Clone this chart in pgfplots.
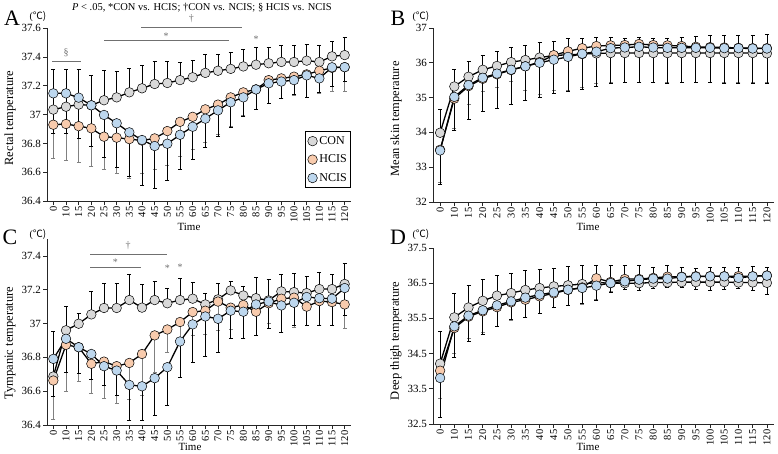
\documentclass[border=0pt]{standalone}
\usepackage{pgfplots}
\pgfplotsset{compat=1.18}
\usepackage{fontspec}
\setmainfont{Liberation Serif}
\newfontfamily\cjk{Noto Sans CJK SC}
\definecolor{cgray}{HTML}{D9D9D9}
\definecolor{corange}{HTML}{F8CBAD}
\definecolor{cblue}{HTML}{BDD7EE}
\definecolor{ebgray}{HTML}{808080}
\definecolor{siggray}{HTML}{707070}
\pgfplotsset{
  panel/.style={
    anchor=south west, scale only axis,
    xmin=-0.5, xmax=23.5,
    axis x line*=bottom, axis y line*=left,
    axis line style={black!85, line width=0.9pt},
    xtick={0,...,23},
    xticklabels={0,10,15,20,25,30,35,40,45,50,55,60,65,70,75,80,85,90,95,100,105,110,115,120},
    x tick label style={rotate=90, anchor=east, font=\fontsize{10.5}{12}\selectfont, inner sep=1.5pt},
    y tick label style={font=\fontsize{11}{13}\selectfont, inner sep=2pt},
    tick align=outside, major tick length=4pt,
    every tick/.style={black!85, line width=0.8pt},
    /pgf/number format/assume math mode=true,
    clip=false,
  },
  ser/.style={black, line width=1.3pt, mark=*, mark size=4.8pt,
    error bars/y explicit,
    error bars/error mark=-,
    error bars/error bar style={line width=0.8pt, solid}},
  con/.style={ser, mark options={fill=cgray, draw=black, line width=0.5pt},
    error bars/y dir=plus,
    error bars/error bar style={black, line width=0.8pt},
    error bars/error mark options={rotate=90, black, mark size=2pt, line width=0.8pt}},
  hcis/.style={ser, mark options={fill=corange, draw=black, line width=0.5pt},
    error bars/y dir=minus,
    error bars/error bar style={ebgray, line width=0.8pt},
    error bars/error mark options={rotate=90, ebgray, mark size=2pt, line width=0.8pt}},
  ncis/.style={ser, mark options={fill=cblue, draw=black, line width=0.5pt},
    error bars/y dir=minus,
    error bars/error bar style={black, line width=0.8pt},
    error bars/error mark options={rotate=90, black, mark size=2pt, line width=0.8pt}},
}
\begin{document}
\begin{tikzpicture}
\useasboundingbox (0pt,0pt) rectangle (778pt,453pt);

% ---------------- Panel A ----------------
\begin{axis}[panel, at={(47pt,252pt)}, width=304pt, height=172.7pt,
  ymin=36.4, ymax=37.6, ytick={36.4,36.6,36.8,37,37.2,37.4,37.6},
  legend style={at={(1,0.075)}, anchor=south east, draw=black, line width=0.6pt,
    font=\fontsize{12}{14}\selectfont, row sep=5pt, inner xsep=2pt, inner ysep=3pt},
  legend cell align=left]
\addlegendimage{only marks, mark=*, mark size=4.8pt, mark options={fill=cgray, draw=black, line width=0.5pt}}
\addlegendentry{CON}
\addlegendimage{only marks, mark=*, mark size=4.8pt, mark options={fill=corange, draw=black, line width=0.5pt}}
\addlegendentry{HCIS}
\addlegendimage{only marks, mark=*, mark size=4.8pt, mark options={fill=cblue, draw=black, line width=0.5pt}}
\addlegendentry{NCIS}
\addplot[con, forget plot] coordinates {
(0,37.035) +- (0,0.277) (1,37.055) +- (0,0.257) (2,37.07) +- (0,0.245) (3,37.065) +- (0,0.205)
(4,37.10) +- (0,0.205) (5,37.12) +- (0,0.18) (6,37.155) +- (0,0.165) (7,37.183) +- (0,0.157)
(8,37.213) +- (0,0.157) (9,37.22) +- (0,0.15) (10,37.24) +- (0,0.125) (11,37.26) +- (0,0.115)
(12,37.29) +- (0,0.13) (13,37.305) +- (0,0.115) (14,37.318) +- (0,0.112) (15,37.335) +- (0,0.12)
(16,37.347) +- (0,0.123) (17,37.357) +- (0,0.108) (18,37.366) +- (0,0.114) (19,37.366) +- (0,0.114)
(20,37.375) +- (0,0.115) (21,37.366) +- (0,0.114) (22,37.405) +- (0,0.105) (23,37.414) +- (0,0.121)};
\addplot[hcis, forget plot] coordinates {
(0,36.93) +- (0,0.233) (1,36.935) +- (0,0.25) (2,36.92) +- (0,0.25) (3,36.905) +- (0,0.265)
(4,36.847) +- (0,0.227) (5,36.84) +- (0,0.25) (6,36.83) +- (0,0.27) (7,36.82) +- (0,0.23)
(8,36.835) +- (0,0.215) (9,36.886) +- (0,0.236) (10,36.95) +- (0,0.24) (11,36.985) +- (0,0.225)
(12,37.037) +- (0,0.227) (13,37.07) +- (0,0.21) (14,37.12) +- (0,0.2) (15,37.155) +- (0,0.16)
(16,37.176) +- (0,0.14) (17,37.24) +- (0,0.16) (18,37.252) +- (0,0.14) (19,37.264) +- (0,0.13)
(20,37.28) +- (0,0.16) (21,37.305) +- (0,0.155) (22,37.325) +- (0,0.165) (23,37.33) +- (0,0.17)};
\addplot[ncis, forget plot] coordinates {
(0,37.148) +- (0,0.278) (1,37.148) +- (0,0.278) (2,37.118) +- (0,0.283) (3,37.065) +- (0,0.285)
(4,36.998) +- (0,0.298) (5,36.94) +- (0,0.305) (6,36.877) +- (0,0.307) (7,36.824) +- (0,0.314)
(8,36.782) +- (0,0.297) (9,36.798) +- (0,0.258) (10,36.86) +- (0,0.24) (11,36.916) +- (0,0.226)
(12,36.972) +- (0,0.2) (13,37.03) +- (0,0.18) (14,37.086) +- (0,0.176) (15,37.12) +- (0,0.13)
(16,37.175) +- (0,0.138) (17,37.218) +- (0,0.14) (18,37.23) +- (0,0.12) (19,37.24) +- (0,0.10)
(20,37.273) +- (0,0.15) (21,37.252) +- (0,0.10) (22,37.329) +- (0,0.13) (23,37.33) +- (0,0.10)};
% significance marks
\draw[siggray, line width=0.9pt] (axis cs:-0.1,37.373) -- (axis cs:2.2,37.373);
\node[siggray, font=\fontsize{10}{12}\selectfont] at (axis cs:1,37.43) {§};
\draw[siggray, line width=0.9pt] (axis cs:4,37.514) -- (axis cs:13.9,37.514);
\node[siggray, font=\fontsize{10}{12}\selectfont] at (axis cs:8.9,37.545) {*};
\draw[siggray, line width=0.9pt] (axis cs:6.95,37.604) -- (axis cs:14.9,37.604);
\node[siggray, font=\fontsize{10}{12}\selectfont] at (axis cs:10.9,37.665) {†};
\node[siggray, font=\fontsize{10}{12}\selectfont] at (axis cs:16,37.525) {*};
\end{axis}

% ---------------- Panel B ----------------
\begin{axis}[panel, at={(433pt,251pt)}, width=341pt, height=174pt,
  ymin=32, ymax=37, ytick={32,33,34,35,36,37}]
\addplot[con] coordinates {
(0,33.99) +- (0,0.67) (1,35.32) +- (0,0.48) (2,35.60) +- (0,0.45) (3,35.80) +- (0,0.41)
(4,35.91) +- (0,0.43) (5,36.02) +- (0,0.42) (6,36.08) +- (0,0.42) (7,36.15) +- (0,0.43)
(8,36.21) +- (0,0.41) (9,36.23) +- (0,0.46) (10,36.25) +- (0,0.46) (11,36.27) +- (0,0.45)
(12,36.28) +- (0,0.44) (13,36.28) +- (0,0.43) (14,36.28) +- (0,0.44) (15,36.28) +- (0,0.43)
(16,36.28) +- (0,0.43) (17,36.28) +- (0,0.45) (18,36.28) +- (0,0.49) (19,36.28) +- (0,0.5)
(20,36.28) +- (0,0.51) (21,36.28) +- (0,0.5) (22,36.28) +- (0,0.51) (23,36.27) +- (0,0.54)};
\addplot[hcis] coordinates {
(0,33.50) +- (0,0.95) (1,34.97) +- (0,0.85) (2,35.33) +- (0,0.52) (3,35.54) +- (0,0.35)
(4,35.67) +- (0,0.37) (5,35.79) +- (0,0.33) (6,35.90) +- (0,0.7) (7,36.02) +- (0,0.92)
(8,36.22) +- (0,1.02) (9,36.33) +- (0,1.13) (10,36.42) +- (0,1.12) (11,36.48) +- (0,1.08)
(12,36.50) +- (0,1.05) (13,36.51) +- (0,1.06) (14,36.54) +- (0,1.09) (15,36.51) +- (0,1.06)
(16,36.50) +- (0,1.05) (17,36.48) +- (0,1.03) (18,36.46) +- (0,1.01) (19,36.45) +- (0,1.0)
(20,36.44) +- (0,0.99) (21,36.43) +- (0,0.98) (22,36.42) +- (0,0.97) (23,36.42) +- (0,0.97)};
\addplot[ncis] coordinates {
(0,33.48) +- (0,0.98) (1,35.02) +- (0,0.97) (2,35.36) +- (0,0.98) (3,35.57) +- (0,0.97)
(4,35.69) +- (0,1.0) (5,35.80) +- (0,0.99) (6,35.90) +- (0,0.97) (7,36.0) +- (0,0.99)
(8,36.09) +- (0,0.97) (9,36.17) +- (0,1.0) (10,36.26) +- (0,1.01) (11,36.32) +- (0,0.99)
(12,36.42) +- (0,1.0) (13,36.44) +- (0,1.01) (14,36.46) +- (0,1.03) (15,36.44) +- (0,1.01)
(16,36.43) +- (0,1.02) (17,36.43) +- (0,1.0) (18,36.43) +- (0,1.0) (19,36.43) +- (0,1.0)
(20,36.42) +- (0,1.0) (21,36.42) +- (0,1.0) (22,36.41) +- (0,1.0) (23,36.41) +- (0,0.99)};
\end{axis}

% ---------------- Panel C ----------------
\begin{axis}[panel, at={(47pt,28pt)}, width=304pt, height=186pt,
  ymin=36.4, ymax=37.5, ytick={36.4,36.6,36.8,37,37.2,37.4}]
\addplot[con] coordinates {
(0,36.687) +- (0,0.268) (1,36.96) +- (0,0.14) (2,36.999) +- (0,0.061) (3,37.054) +- (0,0.136)
(4,37.092) +- (0,0.144) (5,37.092) +- (0,0.144) (6,37.139) +- (0,0.151) (7,37.094) +- (0,0.136)
(8,37.139) +- (0,0.111) (9,37.12) +- (0,0.09) (10,37.139) +- (0,0.127) (11,37.147) +- (0,0.095)
(12,37.113) +- (0,0.064) (13,37.143) +- (0,0.093) (14,37.196) +- (0,0.054) (15,37.166) +- (0,0.054)
(16,37.15) +- (0,0.125) (17,37.137) +- (0,0.125) (18,37.19) +- (0,0.1) (19,37.186) +- (0,0.109)
(20,37.18) +- (0,0.1) (21,37.204) +- (0,0.096) (22,37.204) +- (0,0.086) (23,37.234) +- (0,0.119)};
\addplot[hcis] coordinates {
(0,36.663) +- (0,0.227) (1,36.874) +- (0,0.274) (2,36.86) +- (0,0.2) (3,36.762) +- (0,0.178)
(4,36.775) +- (0,0.217) (5,36.748) +- (0,0.218) (6,36.767) +- (0,0.213) (7,36.82) +- (0,0.246)
(8,36.93) +- (0,0.22) (9,36.965) +- (0,0.135) (10,37.009) +- (0,0.326) (11,37.068) +- (0,0.138)
(12,37.076) +- (0,0.141) (13,37.13) +- (0,0.17) (14,37.094) +- (0,0.131) (15,37.11) +- (0,0.2)
(16,37.07) +- (0,0.14) (17,37.12) +- (0,0.121) (18,37.147) +- (0,0.202) (19,37.153) +- (0,0.173)
(20,37.10) +- (0,0.11) (21,37.133) +- (0,0.143) (22,37.127) +- (0,0.137) (23,37.113) +- (0,0.143)};
\addplot[ncis] coordinates {
(0,36.791) +- (0,0.223) (1,36.91) +- (0,0.2) (2,36.86) +- (0,0.154) (3,36.82) +- (0,0.152)
(4,36.748) +- (0,0.111) (5,36.722) +- (0,0.148) (6,36.637) +- (0,0.211) (7,36.629) +- (0,0.199)
(8,36.677) +- (0,0.222) (9,36.742) +- (0,0.224) (10,36.894) +- (0,0.214) (11,36.995) +- (0,0.225)
(12,37.042) +- (0,0.237) (13,37.028) +- (0,0.201) (14,37.076) +- (0,0.162) (15,37.07) +- (0,0.16)
(16,37.113) +- (0,0.183) (17,37.13) +- (0,0.16) (18,37.107) +- (0,0.162) (19,37.123) +- (0,0.133)
(20,37.157) +- (0,0.167) (21,37.15) +- (0,0.16) (22,37.147) +- (0,0.157) (23,37.21) +- (0,0.16)};
\draw[siggray, line width=0.9pt] (axis cs:2.9,37.406) -- (axis cs:8.95,37.406);
\node[siggray, font=\fontsize{10}{12}\selectfont] at (axis cs:5.9,37.46) {†};
\draw[siggray, line width=0.9pt] (axis cs:2.9,37.33) -- (axis cs:6.9,37.33);
\node[siggray, font=\fontsize{10}{12}\selectfont] at (axis cs:4.9,37.365) {*};
\node[siggray, font=\fontsize{10}{12}\selectfont] at (axis cs:9,37.33) {*};
\node[siggray, font=\fontsize{10}{12}\selectfont] at (axis cs:10,37.335) {*};
\end{axis}

% ---------------- Panel D ----------------
\begin{axis}[panel, at={(433pt,29pt)}, width=341pt, height=176pt,
  ymin=32.5, ymax=37.5, ytick={32.5,33.5,34.5,35.5,36.5,37.5}]
\addplot[con] coordinates {
(0,34.214) +- (0,0.916) (1,35.53) +- (0,0.69) (2,35.81) +- (0,0.63) (3,36.0) +- (0,0.62)
(4,36.146) +- (0,0.574) (5,36.22) +- (0,0.57) (6,36.307) +- (0,0.549) (7,36.364) +- (0,0.536)
(8,36.41) +- (0,0.52) (9,36.44) +- (0,0.54) (10,36.477) +- (0,0.523) (11,36.52) +- (0,0.49)
(12,36.5) +- (0,0.51) (13,36.5) +- (0,0.5) (14,36.5) +- (0,0.5) (15,36.52) +- (0,0.43)
(16,36.52) +- (0,0.49) (17,36.53) +- (0,0.43) (18,36.53) +- (0,0.4) (19,36.53) +- (0,0.42)
(20,36.53) +- (0,0.42) (21,36.52) +- (0,0.43) (22,36.52) +- (0,0.45) (23,36.51) +- (0,0.44)};
\addplot[hcis] coordinates {
(0,34.015) +- (0,0.775) (1,35.227) +- (0,0.71) (2,35.55) +- (0,0.63) (3,35.70) +- (0,0.61)
(4,35.82) +- (0,0.55) (5,35.956) +- (0,0.5) (6,36.03) +- (0,0.5) (7,36.127) +- (0,0.48)
(8,36.21) +- (0,0.4) (9,36.31) +- (0,0.45) (10,36.38) +- (0,0.47) (11,36.64) +- (0,0.59)
(12,36.534) +- (0,0.28) (13,36.62) +- (0,0.29) (14,36.62) +- (0,0.33) (15,36.65) +- (0,0.29)
(16,36.686) +- (0,0.31) (17,36.686) +- (0,0.3) (18,36.7) +- (0,0.38) (19,36.7) +- (0,0.41)
(20,36.7) +- (0,0.37) (21,36.7) +- (0,0.34) (22,36.7) +- (0,0.41) (23,36.72) +- (0,0.55)};
\addplot[ncis] coordinates {
(0,33.807) +- (0,1.12) (1,35.275) +- (0,0.885) (2,35.578) +- (0,0.73) (3,35.73) +- (0,0.69)
(4,35.87) +- (0,0.6) (5,35.985) +- (0,0.52) (6,36.09) +- (0,0.56) (7,36.174) +- (0,0.52)
(8,36.24) +- (0,0.43) (9,36.316) +- (0,0.46) (10,36.364) +- (0,0.45) (11,36.43) +- (0,0.41)
(12,36.506) +- (0,0.26) (13,36.553) +- (0,0.22) (14,36.6) +- (0,0.31) (15,36.63) +- (0,0.27)
(16,36.63) +- (0,0.25) (17,36.676) +- (0,0.29) (18,36.686) +- (0,0.37) (19,36.695) +- (0,0.4)
(20,36.695) +- (0,0.37) (21,36.65) +- (0,0.29) (22,36.695) +- (0,0.4) (23,36.714) +- (0,0.54)};
\end{axis}

% ---------------- texts ----------------
\node[font=\fontsize{10.5}{12}\selectfont] at (202pt,445pt) {\textit{P} < .05, *CON vs. HCIS; †CON vs. NCIS;\ § HCIS vs. NCIS};
\node[font=\fontsize{22}{24}\selectfont] at (12pt,435pt) {A};
\node[font=\fontsize{22}{24}\selectfont] at (398pt,435pt) {B};
\node[font=\fontsize{22}{24}\selectfont] at (10pt,216pt) {C};
\node[font=\fontsize{22}{24}\selectfont] at (398pt,216pt) {D};
\node[font=\fontsize{10}{12}\selectfont] at (38pt,437pt) {(\cjk{℃})};
\node[font=\fontsize{10}{12}\selectfont] at (421pt,437pt) {(\cjk{℃})};
\node[font=\fontsize{10}{12}\selectfont] at (38pt,219pt) {(\cjk{℃})};
\node[font=\fontsize{10}{12}\selectfont] at (421pt,219pt) {(\cjk{℃})};
\node[rotate=90, font=\fontsize{12.5}{14}\selectfont] at (10pt,335pt) {Rectal temperature};
\node[rotate=90, font=\fontsize{12.5}{14}\selectfont] at (396pt,334pt) {Mean skin temperature};
\node[rotate=90, font=\fontsize{12.5}{14}\selectfont] at (10pt,110pt) {Tympanic temperature};
\node[rotate=90, font=\fontsize{12.5}{14}\selectfont] at (396pt,112pt) {Deep thigh temperature};
\node[font=\fontsize{11}{13}\selectfont] at (189pt,226pt) {Time};
\node[font=\fontsize{11}{13}\selectfont] at (588pt,226pt) {Time};
\node[font=\fontsize{11}{13}\selectfont] at (190pt,6pt) {Time};
\node[font=\fontsize{11}{13}\selectfont] at (588pt,6pt) {Time};
\end{tikzpicture}
\end{document}
